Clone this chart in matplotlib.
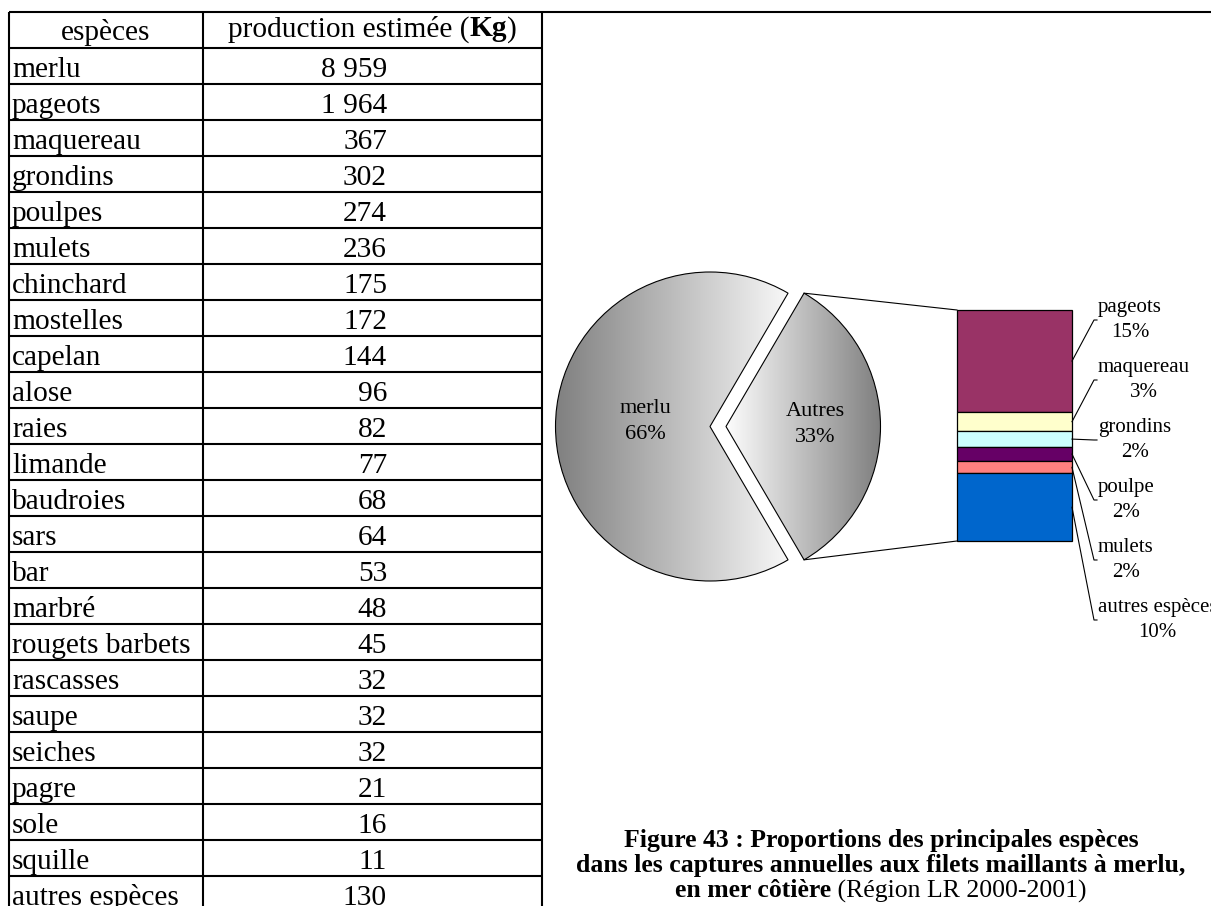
import numpy as np
import matplotlib.pyplot as plt
from matplotlib.patches import Wedge
from matplotlib.colors import LinearSegmentedColormap
from matplotlib.offsetbox import TextArea, HPacker, VPacker, AnnotationBbox

plt.rcParams["font.family"] = ["Liberation Serif", "DejaVu Serif"]

# table data
especes = ["merlu", "pageots", "maquereau", "grondins", "poulpes", "mulets",
           "chinchard", "mostelles", "capelan", "alose", "raies", "limande",
           "baudroies", "sars", "bar", "marbré", "rougets barbets", "rascasses",
           "saupe", "seiches", "pagre", "sole", "squille", "autres espèces"]
production = [8959, 1964, 367, 302, 274, 236, 175, 172, 144, 96, 82, 77,
              68, 64, 53, 48, 45, 32, 32, 32, 21, 16, 11, 130]

# pie / bar data
pie_names = ["merlu", "Autres"]
pie_pct = ["66%", "33%"]
bar_names = ["pageots", "maquereau", "grondins", "poulpe", "mulets", "autres espèces"]
bar_pct = ["15%", "3%", "2%", "2%", "2%", "10%"]
bar_colors = ["#993366", "#FFFFCC", "#CCFFFF", "#660066", "#FF8080", "#0066CC"]

bar_values = production[1:6] + [sum(production[6:])]
pie_values = [production[0], sum(bar_values)]

W, H = 1211, 906
fig = plt.figure(figsize=(W / 100, H / 100), dpi=100)
ax = fig.add_axes([0, 0, 1, 1])
ax.axis("off")

# ---------------- table ----------------
x_left, x_mid, x_right = 9, 203, 542
y_top, row_h = 12, 36
tfs = 21.2
lw_t = 1.5

ax.plot([x_left, W], [y_top, y_top], color="black", lw=lw_t, solid_capstyle="butt")
for i in range(1, len(especes) + 1):
    y = y_top + i * row_h
    ax.plot([x_left, x_right], [y, y], color="black", lw=lw_t, solid_capstyle="butt")
for x in (x_left, x_mid, x_right):
    ax.plot([x, x], [y_top, H], color="black", lw=lw_t, solid_capstyle="butt")

ax.text((x_left + x_mid) / 2, y_top + row_h - 8, "espèces", fontsize=tfs,
        ha="center", va="baseline")
hdr = HPacker(children=[TextArea("production estimée (", textprops=dict(fontsize=tfs)),
                        TextArea("Kg", textprops=dict(fontsize=tfs, fontweight="bold")),
                        TextArea(")", textprops=dict(fontsize=tfs))],
              align="baseline", pad=0, sep=0)
ax.add_artist(AnnotationBbox(hdr, ((x_mid + x_right) / 2, y_top + row_h / 2 - 1),
                             xycoords="data", frameon=False,
                             box_alignment=(0.5, 0.5), pad=0))

for i, (name, val) in enumerate(zip(especes, production)):
    yb = y_top + (i + 2) * row_h - 7
    ax.text(x_left + 3, yb, name, fontsize=tfs, ha="left", va="baseline")
    ax.text(387, yb, f"{val:,}".replace(",", " "), fontsize=tfs,
            ha="right", va="baseline")

# ---------------- pie ----------------
cx, cy, r = 710, 426.5, 154.5
explode = 16
half = 180 * pie_values[1] / sum(pie_values)

cmap_merlu = LinearSegmentedColormap.from_list("m", ["#808080", "#f8f8f8"])
cmap_autres = LinearSegmentedColormap.from_list("a", ["#fdfdfd", "#7f7f7f"])
grad = np.linspace(0, 1, 256).reshape(1, -1)

wedges = [
    (Wedge((cx, cy), r, half, 360 - half), cmap_merlu),
    (Wedge((cx + explode, cy), r, -half, half), cmap_autres),
]
for w, cm in wedges:
    w.set_facecolor("none")
    w.set_edgecolor("black")
    w.set_linewidth(0.8)
    ax.add_patch(w)
    verts = w.get_path().vertices
    x0, x1 = verts[:, 0].min(), verts[:, 0].max()
    y0, y1 = verts[:, 1].min(), verts[:, 1].max()
    im = ax.imshow(grad, cmap=cm, extent=(x0, x1, y1, y0), aspect="auto",
                   interpolation="bilinear", zorder=1)
    im.set_clip_path(w)
    w.set_zorder(2)

lfs = 16
ax.text(cx - 0.42 * r, cy - 5, f"{pie_names[0]}\n{pie_pct[0]}", fontsize=lfs,
        ha="center", va="center", multialignment="center", linespacing=1.5, zorder=3)
ax.text(cx + explode + 0.58 * r, cy - 2, f"{pie_names[1]}\n{pie_pct[1]}", fontsize=lfs,
        ha="center", va="center", multialignment="center", linespacing=1.5, zorder=3)

# ---------------- bar of pie ----------------
bar_x0, bar_w = 957, 115
bar_top, bar_total_h = 310, 231
heights = np.array(bar_values) / sum(bar_values) * bar_total_h
bottoms = bar_top + np.concatenate([[0], np.cumsum(heights)[:-1]])
ax.bar(bar_x0 + bar_w / 2, heights, bottom=bottoms, width=bar_w,
       color=bar_colors, edgecolor="black", linewidth=0.9, zorder=2)

# connector lines between pie and bar
ang = np.deg2rad(half)
top_pt = (cx + explode + r * np.cos(ang), cy - r * np.sin(ang))
bot_pt = (cx + explode + r * np.cos(ang), cy + r * np.sin(ang))
ax.plot([top_pt[0], bar_x0], [top_pt[1], bar_top], color="black", lw=0.8)
ax.plot([bot_pt[0], bar_x0], [bot_pt[1], bar_top + bar_total_h], color="black", lw=0.8)

# labels with leader lines
lab_x = 1098
bfs = 15
for i, (name, pct) in enumerate(zip(bar_names, bar_pct)):
    ly = 320 + i * 60
    mid = bottoms[i] + heights[i] / 2
    ax.plot([bar_x0 + bar_w, lab_x - 4, lab_x - 1], [mid, ly, ly],
            color="black", lw=0.8, zorder=3)
    ax.text(lab_x, ly, f"{name}\n{pct}", fontsize=bfs, ha="left", va="center",
            multialignment="center", linespacing=1.4)

# ---------------- caption ----------------
cfs = 18.5
bold = dict(fontsize=cfs, fontweight="bold")
cap = VPacker(children=[
    TextArea("Figure 43 : Proportions des principales espèces", textprops=bold),
    TextArea("dans les captures annuelles aux filets maillants à merlu,", textprops=bold),
    HPacker(children=[TextArea("en mer côtière", textprops=bold),
                      TextArea(" (Région LR 2000-2001)", textprops=dict(fontsize=cfs))],
            align="baseline", pad=0, sep=0),
], align="center", pad=0, sep=1.5)
ax.add_artist(AnnotationBbox(cap, (881, 866), xycoords="data", frameon=False,
                             box_alignment=(0.5, 0.5), pad=0))

ax.set_xlim(0, W)
ax.set_ylim(H, 0)
fig.savefig("out.png", dpi=100)
